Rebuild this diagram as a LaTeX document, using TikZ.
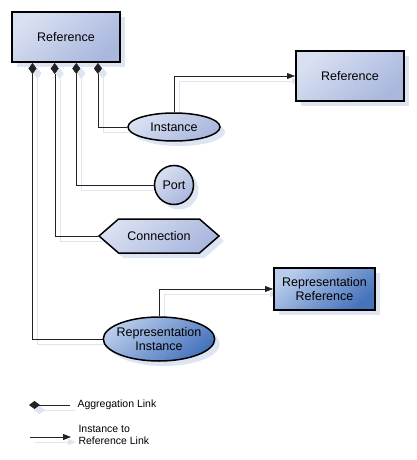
\documentclass[tikz,border=0pt]{standalone}
\usepackage{fontspec}
\setmainfont{Liberation Sans}
\usetikzlibrary{arrows.meta, shapes.geometric, shapes.symbols, shadows, backgrounds}

\definecolor{boxlight}{HTML}{D8E0F1}
\definecolor{boxdark}{HTML}{AAB7DE}
\definecolor{replight}{HTML}{B9CCEB}
\definecolor{repdark}{HTML}{4673BC}
\definecolor{shadowblue}{HTML}{DDE5F3}
\definecolor{linkgray}{HTML}{222222}

\begin{document}
\begin{tikzpicture}[x = 1pt, y = -1pt, % pixel grid, y going down
                > = {Triangle[length = 8pt, width = 6pt]}, % arrow head style
                font = \fontsize{12.5}{14.7}\selectfont,
                line width = 1pt % line style
            ]

            \useasboundingbox (0,0) rectangle (417,460);

            \tikzstyle{thing}=[draw = black, line width = 1.5pt, inner sep = 0pt,
            align = center, top color = boxlight, bottom color = boxdark,
            shading angle = 40, drop shadow = {shadow xshift = 5pt,
            shadow yshift = -5pt, fill = shadowblue, opacity = 1}]
            \tikzstyle{refbox}=[thing, rectangle, line width = 2pt,
            minimum width = 108pt, minimum height = 50pt]
            \tikzstyle{repbox}=[refbox, top color = replight, bottom color = repdark,
            shading angle = 40, minimum width = 101pt, minimum height = 42pt]
            \tikzstyle{oval}=[thing, ellipse]
            \tikzstyle{aggr}=[draw = linkgray, {Diamond[length = 11pt, width = 8pt]}-,
            preaction = {draw = shadowblue, transform canvas = {shift = {(5pt,-5pt)}}}]
            \tikzstyle{link}=[draw = linkgray, ->,
            preaction = {draw = shadowblue, transform canvas = {shift = {(5pt,-5pt)}}}]
            \tikzstyle{legend}=[inner sep = 0pt, align = left,
            font = \fontsize{10.5}{12.4}\selectfont]

            \begin{scope}[on background layer]
            % the diamonds lie over the shadow of this box
            \node[refbox] (ref) at (66,37) {Reference};
            \end{scope}
            \node[refbox] (target) at (350,76) {Reference};
            \node[oval, minimum width = 92pt, minimum height = 28pt] (inst) at (174,127)
            {Instance};
            \node[thing, circle, minimum size = 39pt] (port) at (174,185) {Port};
            \node[thing, signal, signal to = west and east, signal pointer angle = 82,
            minimum width = 120pt, minimum height = 34pt] (conn) at (159,236)
            {Connection};
            \node[repbox] (repref) at (324.5,289) {Representation\\Reference};
            \node[oval, top color = replight, bottom color = repdark, shading angle = 40,
            minimum width = 111pt, minimum height = 44pt, inner xsep = -3pt,
            inner ysep = 1pt] (repinst) at (159,339) {Representation\\Instance};

            \coordinate (ag1) at ([xshift = 21.5pt]ref.south west);
            \coordinate (ag2) at ([xshift = 43.7pt]ref.south west);
            \coordinate (ag3) at ([xshift = 65.3pt]ref.south west);
            \coordinate (ag4) at ([xshift = 87pt]ref.south west);

            \begin{scope}[on background layer]
            \draw[aggr] (ag4) |- (inst.west); \draw[aggr] (ag3) |- (port.west);
            \draw[aggr] (ag2) |- (conn.west); \draw[aggr] (ag1) |- (repinst.west);
            \draw[link] (inst.north) |- (target.west); \draw[link] (repinst.north)
            |- (repref.west);
            \end{scope}

            % legend
            \coordinate (lg1) at (29,405); \coordinate (lg2) at (70,405);
            \coordinate (lg3) at (30,437); \coordinate (lg4) at (71,437);
            \draw[aggr] (lg1) -- (lg2); \draw[link] (lg3) -- (lg4);
            \node[legend, anchor = west] (lgaggr) at (77,405) {Aggregation Link};
            \node[legend, anchor = west] (lglink) at (78,435)
            {Instance to\\Reference Link};
\end{tikzpicture}
\end{document}
